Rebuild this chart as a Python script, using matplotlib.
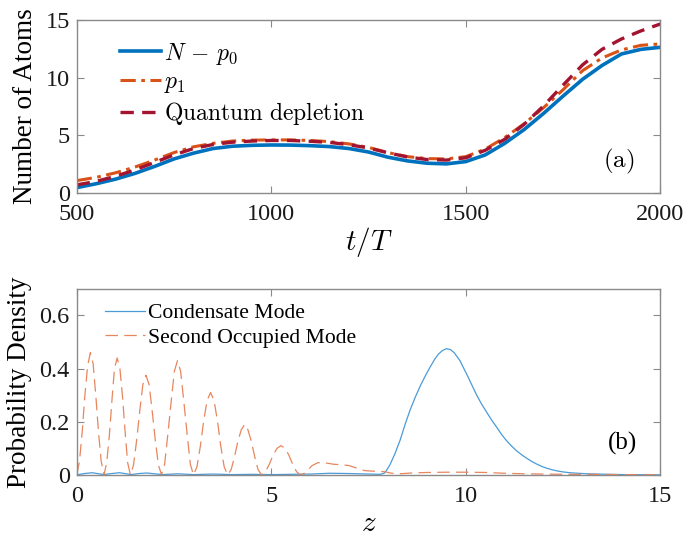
import matplotlib
matplotlib.use("Agg")
import matplotlib.pyplot as plt

# ---------------- data: panel (a) ----------------
t_vals = [500, 550, 600, 650, 700, 750, 800, 850, 900, 950, 1000, 1050, 1100, 1150,
          1200, 1250, 1300, 1350, 1400, 1450, 1500, 1550, 1600, 1650, 1700, 1750,
          1800, 1850, 1900, 1950, 2000]
n_minus_p0 = [0.46, 0.8, 1.2, 1.7, 2.3, 2.95, 3.45, 3.85, 4.05, 4.13, 4.16, 4.15, 4.1,
              4.02, 3.85, 3.55, 3.1, 2.78, 2.58, 2.52, 2.72, 3.3, 4.3, 5.5, 6.9, 8.4,
              9.85, 11.05, 12.05, 12.45, 12.63]
p1 = [1.07, 1.35, 1.75, 2.25, 2.85, 3.5, 4.0, 4.3, 4.5, 4.58, 4.6, 4.6, 4.55, 4.45,
      4.25, 3.95, 3.5, 3.15, 2.98, 2.95, 3.15, 3.8, 4.8, 6.0, 7.4, 8.95, 10.6, 11.7,
      12.4, 12.8, 12.92]
quantum_depletion = [0.7, 1.0, 1.45, 2.0, 2.65, 3.3, 3.85, 4.2, 4.4, 4.5, 4.55, 4.55,
                     4.48, 4.38, 4.18, 3.9, 3.48, 3.12, 2.9, 2.85, 3.05, 3.7, 4.65,
                     5.95, 7.55, 9.35, 11.1, 12.45, 13.35, 14.05, 14.65]
labels_a = [r"$N\,-\,p_0$", r"$p_1$", r"$\mathrm{Quantum\ depletion}$"]

# ---------------- data: panel (b) ----------------
z_cond = [0.0, 0.2, 0.4, 0.7, 0.9, 1.1, 1.4, 1.6, 1.8, 2.2, 2.6, 3.0, 3.5, 4.0, 4.5,
          5.0, 5.5, 6.0, 6.5, 7.0, 7.5, 7.8, 7.9, 7.95, 8.05, 8.18, 8.31, 8.44, 8.57,
          8.7, 8.83, 8.95, 9.08, 9.2, 9.3, 9.4, 9.5, 9.6, 9.7, 9.85, 9.9, 10.02, 10.15,
          10.28, 10.4, 10.54, 10.67, 10.8, 10.92, 11.05, 11.18, 11.3, 11.45, 11.57,
          11.7, 11.83, 11.95, 12.08, 12.2, 12.34, 12.5, 12.68, 13.1, 14.0, 15.0]
d_cond = [0.0, 0.005, 0.008, 0.001, 0.005, 0.008, 0.001, 0.005, 0.007, 0.001, 0.004,
          0.001, 0.003, 0.001, 0.002, 0.001, 0.002, 0.003, 0.006, 0.005, 0.003, 0.002,
          0.006, 0.014, 0.038, 0.08, 0.13, 0.19, 0.245, 0.292, 0.335, 0.37, 0.405, 0.435,
          0.455, 0.468, 0.475, 0.472, 0.46, 0.43, 0.415, 0.38, 0.34, 0.30, 0.268, 0.235,
          0.205, 0.178, 0.152, 0.128, 0.108, 0.091, 0.074, 0.062, 0.05, 0.04, 0.032,
          0.025, 0.02, 0.015, 0.011, 0.008, 0.004, 0.001, 0.0]

z_second = [0.0, 0.07, 0.14, 0.21, 0.28, 0.35, 0.42, 0.49, 0.56, 0.63, 0.70,
            0.77, 0.84, 0.91, 0.97, 1.04, 1.11, 1.18, 1.25, 1.31, 1.38,
            1.46, 1.54, 1.62, 1.70, 1.78, 1.86, 1.94, 2.02, 2.10, 2.18,
            2.26, 2.34, 2.43, 2.51, 2.59, 2.67, 2.75, 2.84, 2.92, 3.00,
            3.09, 3.18, 3.26, 3.35, 3.44, 3.53, 3.62, 3.70, 3.79, 3.88,
            3.97, 4.05, 4.14, 4.23, 4.32, 4.40, 4.49, 4.58, 4.66, 4.75,
            4.85, 4.95, 5.05, 5.15, 5.25, 5.35, 5.45, 5.55, 5.65, 5.75,
            5.85, 5.95, 6.05, 6.2, 6.4, 6.6, 6.8, 7.0, 7.2, 7.4, 7.6, 7.9, 8.1,
            8.3, 8.6, 9.0, 9.5, 10.0, 10.5, 11.0, 11.5, 12.0, 12.5, 13.0, 14.0, 15.0]
d_second = [0.0, 0.05, 0.16, 0.30, 0.41, 0.46, 0.42, 0.30, 0.16, 0.05, 0.0,
            0.045, 0.15, 0.29, 0.40, 0.44, 0.40, 0.29, 0.15, 0.045, 0.0,
            0.037, 0.13, 0.24, 0.34, 0.375, 0.34, 0.24, 0.13, 0.037, 0.0,
            0.04, 0.15, 0.28, 0.39, 0.43, 0.39, 0.28, 0.15, 0.04, 0.0,
            0.03, 0.11, 0.20, 0.28, 0.31, 0.28, 0.20, 0.11, 0.03, 0.0,
            0.02, 0.065, 0.125, 0.17, 0.19, 0.17, 0.125, 0.065, 0.02, 0.0,
            0.012, 0.04, 0.075, 0.10, 0.11, 0.10, 0.075, 0.04, 0.012, 0.0,
            0.006, 0.02, 0.035, 0.046, 0.045, 0.04, 0.038, 0.035, 0.025, 0.016,
            0.014, 0.012, 0.006, 0.004, 0.007, 0.009, 0.01, 0.01, 0.009, 0.006,
            0.004, 0.003, 0.002, 0.002, 0.001, 0.0]
labels_b = ["Condensate Mode", "Second Occupied Mode"]

# ---------------- styling ----------------
plt.rcParams["font.family"] = ["Liberation Serif", "DejaVu Serif"]
plt.rcParams["mathtext.fontset"] = "cm"

SPINE = "#8a8a8a"
BLUE = "#0072BD"
ORANGE = "#D95319"
DARKRED = "#A2142F"

fig = plt.figure(figsize=(6.85, 5.39), dpi=100)
axa = fig.add_axes([0.112, 0.642, 0.852, 0.321])
axb = fig.add_axes([0.112, 0.119, 0.852, 0.345])


def style(ax):
    for s in ax.spines.values():
        s.set_color(SPINE)
        s.set_linewidth(1.0)
    ax.tick_params(direction="in", top=True, right=True, length=5, width=0.8,
                   color=SPINE, labelsize=17.5, labelcolor="#1a1a1a")
    ax.tick_params(axis="x", pad=8)
    ax.tick_params(axis="y", pad=5)


# panel (a)
axa.plot(t_vals, n_minus_p0, color=BLUE, lw=2.6, label=labels_a[0])
axa.plot(t_vals, p1, color=ORANGE, lw=2.2, linestyle=(0, (5, 1.8, 1.2, 1.8)), label=labels_a[1])
axa.plot(t_vals, quantum_depletion, color=DARKRED, lw=2.4, linestyle=(0, (4, 2.5)),
         label=labels_a[2])
axa.set_xlim(500, 2000)
axa.set_ylim(0, 15)
axa.set_xticks([500, 1000, 1500, 2000])
axa.set_yticks([0, 5, 10, 15])
style(axa)
axa.set_xlabel(r"$t/T$", fontsize=21, labelpad=0)
axa.set_ylabel("Number of Atoms", fontsize=19.5, labelpad=5)
axa.legend(loc="upper left", frameon=False, fontsize=17, handlelength=1.75,
           handletextpad=0.15, labelspacing=0.22, borderaxespad=0.4,
           bbox_to_anchor=(0.041, 0.99))
axa.text(0.955, 0.18, r"$\mathrm{(a)}$", transform=axa.transAxes, fontsize=18,
         ha="right", va="center")

# panel (b)
axb.plot(z_cond, d_cond, color="#4a9bd8", lw=0.9, label=labels_b[0])
axb.plot(z_second, d_second, color="#e8865e", lw=0.9, linestyle=(0, (10, 5)),
         label=labels_b[1])
axb.set_xlim(0, 15)
axb.set_ylim(0, 0.7)
axb.set_xticks([0, 5, 10, 15])
axb.set_yticks([0, 0.2, 0.4, 0.6])
axb.set_yticklabels(["0", "0.2", "0.4", "0.6"])
style(axb)
axb.set_xlabel(r"$z$", fontsize=21, labelpad=3)
axb.set_ylabel("Probability Density", fontsize=19.5, labelpad=5)
axb.legend(loc="upper left", frameon=False, fontsize=15.6, handlelength=1.85,
           handletextpad=0.1, labelspacing=0.2, borderaxespad=0.25,
           bbox_to_anchor=(0.025, 1.0))
axb.text(0.96, 0.17, "(b)", transform=axb.transAxes, fontsize=18,
         ha="right", va="center")

fig.savefig("out.png", dpi=100)
